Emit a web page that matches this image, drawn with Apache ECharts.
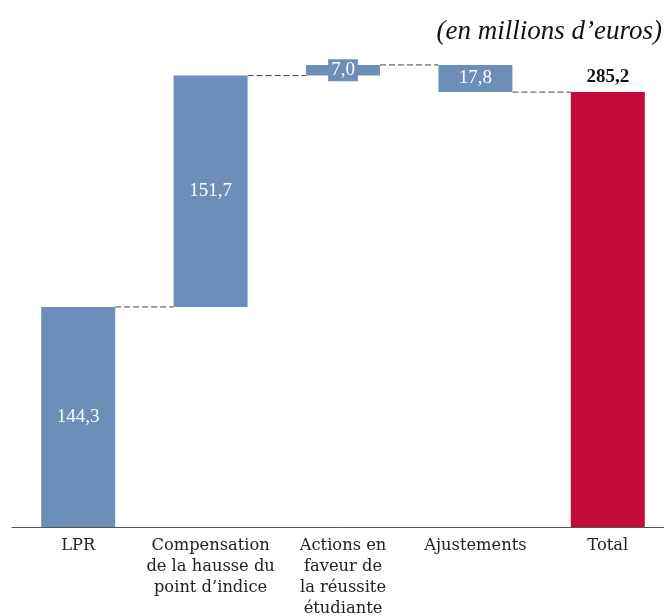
<!DOCTYPE html>
<html>
<head>
<meta charset="utf-8">
<script src="https://cdn.jsdelivr.net/npm/echarts@6/dist/echarts.min.js"></script>
<style>html,body{margin:0;padding:0;background:#fff}#c{width:664px;height:616px}</style>
</head>
<body>
<div id="c"></div>
<script>
const categories = ['LPR', 'Compensation\nde la hausse du\npoint d\u2019indice', 'Actions en\nfaveur de\nla réussite\nétudiante', 'Ajustements', 'Total'];
const changes = [144.3, 151.7, 7.0, -17.8, 285.2];
const valueLabels = ['144,3', '151,7', '7,0', '17,8', '285,2'];
const isTotal = [false, false, false, false, true];

const BLUE = '#6d8eb9', RED = '#c20b3b';
const FONT = 'Liberation Serif';
const CAT_FONT = 'DejaVu Serif';

const bases = [], heights = [], levels = [];
let run = 0;
changes.forEach((v, i) => {
  if (isTotal[i]) { bases.push(0); heights.push(v); levels.push(v); run = v; }
  else if (v >= 0) { bases.push(run); heights.push(v); run += v; levels.push(run); }
  else { run += v; bases.push(run); heights.push(-v); levels.push(run); }
});
const connectors = [];
for (let i = 0; i < categories.length - 1; i++) connectors.push([i, levels[i]]);

const chart = echarts.init(document.getElementById('c'));
const BW = 74;
chart.setOption({
  animation: false,
  title: {
    text: '(en millions d\u2019euros)',
    right: -3, top: 13,
    textStyle: { fontFamily: FONT, fontStyle: 'italic', fontWeight: 'normal', fontSize: 27, color: '#111' }
  },
  grid: { left: 12, right: -10, top: 39, bottom: 89, outerBoundsMode: 'none', containLabel: false },
  xAxis: {
    type: 'category', data: categories,
    axisLine: { lineStyle: { color: '#555', width: 1 } },
    axisTick: { show: false },
    axisLabel: { fontFamily: CAT_FONT, fontSize: 16.3, color: '#222', lineHeight: 21, margin: 8, interval: 0 }
  },
  yAxis: { type: 'value', min: 0, max: 320, show: false, splitLine: { show: false } },
  series: [
    {
      type: 'bar', stack: 'w', barWidth: BW, data: bases,
      itemStyle: { color: 'transparent' }, silent: true
    },
    {
      type: 'bar', stack: 'w', barWidth: BW,
      data: heights.map((h, i) => ({
        value: h,
        itemStyle: { color: isTotal[i] ? RED : BLUE },
        label: isTotal[i]
          ? { show: true, position: 'top', formatter: valueLabels[i], fontFamily: FONT, fontSize: 19, fontWeight: 'bold', color: '#111', distance: 5 }
          : (h < 12
            ? { show: true, position: 'inside', formatter: valueLabels[i], fontFamily: FONT, fontSize: 19, color: '#fff', backgroundColor: BLUE, padding: [2, 3, 1, 3] }
            : { show: true, position: 'inside', formatter: valueLabels[i], fontFamily: FONT, fontSize: 19, color: '#fff' })
      }))
    },
    {
      type: 'custom',
      data: connectors,
      renderItem: (params, api) => {
        const i = api.value(0), lvl = api.value(1);
        const p1 = api.coord([i, lvl]);
        const p2 = api.coord([i + 1, lvl]);
        return {
          type: 'line',
          shape: { x1: p1[0] + BW / 2, y1: p1[1], x2: p2[0] - BW / 2, y2: p2[1] },
          style: { stroke: '#444', lineWidth: 1, lineDash: [6, 3] }
        };
      },
      z: 1
    }
  ]
});
</script>
</body>
</html>
